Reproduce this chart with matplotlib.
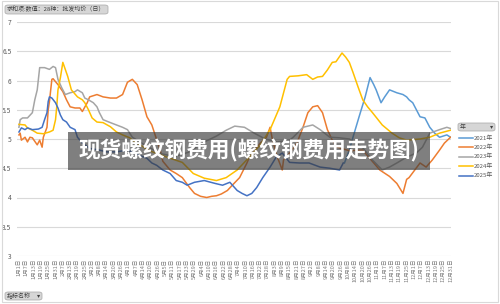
import numpy as np
import matplotlib
matplotlib.use('Agg')
from matplotlib import pyplot as plt
from matplotlib.lines import Line2D
from matplotlib.patches import Rectangle, FancyBboxPatch

plt.rcParams['font.family'] = ['Noto Sans CJK SC', 'DejaVu Sans']

# x tick labels (every 6th trading day category)
tick_labels = ['1月1日', '1月7日', '1月13日', '1月19日', '1月25日', '1月31日', '2月7日', '2月13日',
               '2月19日', '2月25日', '3月2日', '3月8日', '3月14日', '3月20日', '3月26日', '4月1日',
               '4月7日', '4月14日', '4月20日', '4月26日', '5月5日', '5月11日', '5月17日', '5月23日',
               '5月29日', '6月4日', '6月10日', '6月16日', '6月22日', '6月28日', '7月4日', '7月10日',
               '7月16日', '7月22日', '7月28日', '8月3日', '8月9日', '8月15日', '8月21日', '8月27日',
               '9月2日', '9月8日', '9月14日', '9月20日', '9月26日', '10月8日', '10月14日', '10月20日',
               '10月26日', '11月1日', '11月7日', '11月13日', '11月19日', '11月25日', '12月1日', '12月7日',
               '12月13日', '12月19日', '12月25日', '12月31日']
n_cat = (len(tick_labels) - 1) * 6 + 1

# series: category index / value
c2021 = [267, 271, 274, 277, 279, 284, 288, 291, 293, 297, 300, 304, 310, 315, 318, 320, 323, 326,
         329, 333, 337, 341, 345, 351, 354]
v2021 = [4.59, 4.81, 5.03, 5.24, 5.38, 5.72, 6.05, 5.93, 5.84, 5.62, 5.72, 5.84, 5.79, 5.76, 5.72,
         5.67, 5.62, 5.50, 5.38, 5.36, 5.20, 5.10, 5.03, 5.07, 5.03]

c2022 = [0, 1, 2, 5, 7, 9, 11, 15, 17, 19, 20, 23, 24, 25, 27, 28, 32, 36, 39, 42, 46, 50, 52, 56,
         58, 64, 69, 75, 80, 85, 89, 93, 97, 101, 105, 109, 112, 116, 118, 124, 129, 134, 140, 144,
         149, 154, 158, 162, 166, 171, 175, 181, 187, 189, 193, 198, 203, 206, 208, 212, 216, 217,
         222, 228, 233, 237, 241, 245, 249, 253, 257, 261, 271, 282, 289, 296, 304, 310, 315, 318,
         320, 329, 334, 339, 345, 349, 354]
v2022 = [5.07, 5.10, 4.98, 5.03, 4.95, 5.03, 5.02, 4.90, 4.98, 4.86, 5.03, 5.20, 5.50, 5.64, 6.02,
         6.03, 5.93, 5.81, 5.67, 5.55, 5.53, 5.53, 5.47, 5.62, 5.72, 5.76, 5.72, 5.70, 5.70, 5.76,
         5.97, 6.02, 5.93, 5.67, 5.38, 5.24, 5.05, 4.80, 4.62, 4.47, 4.41, 4.34, 4.17, 4.07, 4.02,
         4.00, 4.02, 4.03, 4.06, 4.12, 4.21, 4.34, 4.59, 4.69, 4.80, 4.93, 5.03, 5.20, 4.98, 4.69,
         4.47, 4.64, 4.76, 4.93, 5.20, 5.45, 5.55, 5.57, 5.45, 5.16, 4.98, 4.86, 4.80, 4.81, 4.64,
         4.47, 4.36, 4.24, 4.07, 4.31, 4.34, 4.59, 4.52, 4.64, 4.81, 4.93, 5.03]

c2023 = [0, 1, 3, 7, 11, 13, 15, 17, 21, 25, 28, 30, 32, 35, 38, 42, 46, 48, 52, 54, 57, 61, 64, 66,
         69, 75, 80, 85, 89, 93, 103, 116, 128, 140, 152, 162, 170, 177, 185, 193, 202, 212, 222,
         225, 233, 241, 247, 255, 263, 271, 282, 290, 298, 304, 310, 318, 326, 331, 337, 345, 351, 354]
v2023 = [5.20, 5.33, 5.36, 5.36, 5.45, 5.67, 5.84, 6.22, 6.22, 6.19, 6.24, 6.22, 6.02, 5.88, 5.76,
         5.79, 5.81, 5.84, 5.79, 5.70, 5.67, 5.62, 5.55, 5.45, 5.33, 5.28, 5.24, 5.20, 5.16, 5.03,
         4.90, 4.75, 4.70, 4.78, 4.95, 5.05, 5.15, 5.22, 5.20, 5.10, 5.00, 4.95, 4.98, 5.03, 5.20,
         5.24, 5.16, 5.03, 5.02, 5.00, 4.85, 4.64, 4.47, 4.52, 4.59, 4.69, 4.76, 4.86, 5.10, 5.16,
         5.20, 5.18]

c2024 = [0, 5, 7, 11, 15, 20, 25, 28, 30, 31, 32, 34, 36, 40, 43, 48, 52, 54, 57, 60, 64, 69, 75,
         80, 85, 91, 93, 107, 120, 134, 143, 152, 162, 170, 179, 189, 198, 206, 214, 220, 222, 229,
         236, 241, 245, 249, 253, 257, 260, 265, 268, 271, 274, 278, 282, 286, 290, 298, 306, 312,
         318, 329, 337, 345, 354]
v2024 = [5.25, 5.24, 5.19, 5.15, 5.10, 5.09, 5.12, 5.15, 5.33, 5.55, 5.84, 6.05, 6.31, 6.07, 5.84,
         5.72, 5.67, 5.62, 5.50, 5.36, 5.29, 5.28, 5.21, 5.12, 5.07, 5.02, 4.98, 4.80, 4.70, 4.60,
         4.41, 4.33, 4.29, 4.34, 4.47, 4.69, 4.90, 5.16, 5.55, 6.02, 6.07, 6.08, 6.10, 6.02, 6.06,
         6.07, 6.18, 6.31, 6.32, 6.47, 6.40, 6.31, 6.14, 5.90, 5.67, 5.55, 5.45, 5.24, 5.10, 5.02,
         4.98, 5.00, 5.03, 5.10, 5.15]

c2025 = [0, 2, 5, 7, 11, 16, 19, 21, 23, 24, 25, 27, 30, 32, 34, 36, 39, 42, 46, 48, 52, 58, 66,
         72, 80, 89, 93, 99, 105, 109, 113, 118, 124, 129, 134, 138, 144, 152, 161, 167, 173, 179,
         183, 187, 191, 195, 200, 206, 211, 216, 222, 230, 238, 247, 255, 263, 266]
v2025 = [5.12, 5.19, 5.16, 5.19, 5.16, 5.17, 5.20, 5.33, 5.45, 5.64, 5.72, 5.70, 5.62, 5.53, 5.41,
         5.33, 5.29, 5.20, 5.16, 5.03, 4.93, 4.84, 4.81, 4.78, 4.78, 4.81, 4.78, 4.72, 4.67, 4.59,
         4.55, 4.47, 4.41, 4.29, 4.26, 4.21, 4.26, 4.29, 4.24, 4.21, 4.26, 4.12, 4.07, 4.03, 4.07,
         4.17, 4.34, 4.52, 4.69, 4.76, 4.60, 4.59, 4.59, 4.52, 4.50, 4.47, 4.59]

years = ['2021年', '2022年', '2023年', '2024年', '2025年']
colors = ['#5B9BD5', '#ED7D31', '#A5A5A5', '#FFC000', '#4472C4']
xs = [c2021, c2022, c2023, c2024, c2025]
ys = [v2021, v2022, v2023, v2024, v2025]

fig = plt.figure(figsize=(5.0, 3.04), dpi=100)
ax = fig.add_axes([17 / 500, 1 - 256 / 304, 434 / 500, 234 / 304])

for x, y, col in zip(xs, ys, colors):
    ax.plot(x, y, color=col, linewidth=1.1, solid_joinstyle='round')

ax.set_ylim(3, 7)
ax.set_xlim(-1.6, n_cat - 0.6)
ax.set_yticks(np.arange(3, 7.01, 0.5))
ax.set_yticklabels(['3', '3.5', '4', '4.5', '5', '5.5', '6', '6.5', '7'])
ax.set_xticks(np.arange(0, n_cat, 6))
ax.set_xticklabels(tick_labels, rotation=90)
ax.tick_params(axis='y', length=0, labelsize=4.8, labelcolor='#595959', pad=4)
ax.tick_params(axis='x', length=0, labelsize=4.0, labelcolor='#7f7f7f', pad=2)
ax.grid(axis='y', color='#d9d9d9', linewidth=0.8)
ax.set_axisbelow(True)
for s in ax.spines.values():
    s.set_visible(False)

# chart border
fig.add_artist(Rectangle((0.003, 0.006), 0.992, 0.99, transform=fig.transFigure,
                         fill=False, edgecolor='#d9d9d9', linewidth=0.8))

# pivot buttons
def button(x0, y0, w, h, label, arrow=False):
    fig.add_artist(FancyBboxPatch((x0 / 500, 1 - (y0 + h) / 304), w / 500, h / 304,
                                  boxstyle='round,pad=0,rounding_size=0.006',
                                  transform=fig.transFigure, facecolor='#d6d6d6',
                                  edgecolor='#a6a6a6', linewidth=0.5))
    fig.text((x0 + 2) / 500, 1 - (y0 + h / 2) / 304, label, fontsize=4.3,
             color='#404040', va='center', ha='left')
    if arrow:
        fig.text((x0 + w - 2) / 500, 1 - (y0 + h / 2) / 304, '▾', fontsize=4.5,
                 color='#404040', va='center', ha='right', family=['DejaVu Sans'])

button(5, 5, 103, 9, '求和项:数值：28种：批发均价（日）')
button(5, 292, 37, 8, '指标名称', arrow=True)
button(458, 123, 37, 8, '年', arrow=True)

# legend
leg_y = [138, 147.3, 156.7, 166, 175.5]
for yr, col, ly in zip(years, colors, leg_y):
    fig.add_artist(Line2D([459 / 500, 473 / 500], [1 - ly / 304, 1 - ly / 304],
                          color=col, linewidth=1.1, transform=fig.transFigure))
    fig.text(474 / 500, 1 - ly / 304, yr, fontsize=4.3, color='#595959',
             va='center', ha='left')

# title overlay
fig.add_artist(Rectangle((68 / 500, 1 - 170 / 304), 362 / 500, 38 / 304,
                         transform=fig.transFigure, facecolor='#3a3a3a',
                         alpha=0.65, edgecolor='none', zorder=5))
fig.text(249 / 500, 1 - 151 / 304, '现货螺纹钢费用(螺纹钢费用走势图)', fontsize=15.6,
         fontweight='bold', color='white', ha='center', va='center', zorder=6)

fig.savefig('out.png', dpi=100)
